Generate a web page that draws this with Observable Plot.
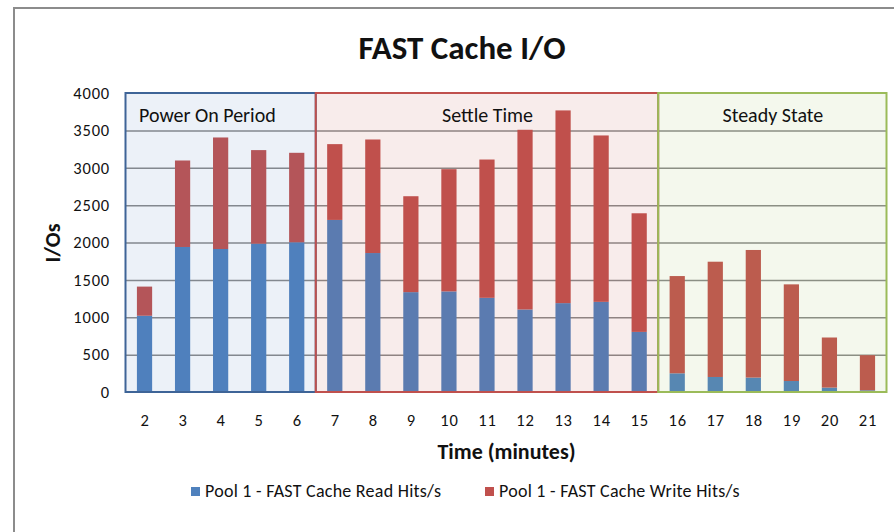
<!DOCTYPE html>
<html>
<head>
<meta charset="utf-8">
<script src="https://cdn.jsdelivr.net/npm/d3@7"></script>
<script src="https://cdn.jsdelivr.net/npm/@observablehq/plot@0.6"></script>
<style>
  body { margin:0; width:894px; height:532px; position:relative; overflow:hidden; background:#fff;
         font-family: Carlito, "Liberation Sans Narrow", Lato, sans-serif; color:#111; }
  #frame { position:absolute; left:13px; top:7px; width:900px; height:600px;
           border-left:2px solid #8c8c8c; border-top:2px solid #8c8c8c; }
  #title { position:absolute; top:29px; left:212px; width:500px; text-align:center;
           font-size:33px; font-weight:bold; line-height:38px; }
  #chart { position:absolute; top:70px; left:0; }
  .leg { position:absolute; top:480px; font-size:18px; letter-spacing:0.25px; line-height:22px; display:flex; align-items:center; }
  .sw { width:9px; height:9px; margin-right:5px; }
  svg g[aria-label="y-axis tick label"] text, svg g[aria-label="x-axis tick label"] text { letter-spacing: 0.8px; }
</style>
</head>
<body>
<div id="frame"></div>
<div id="title">FAST Cache I/O</div>
<div id="chart"></div>
<div class="leg" style="left:191px"><span class="sw" style="background:#4F81BD"></span>Pool 1 - FAST Cache Read Hits/s</div>
<div class="leg" style="left:485px"><span class="sw" style="background:#C0504D"></span>Pool 1 - FAST Cache Write Hits/s</div>
<script>
const minutes = [2,3,4,5,6,7,8,9,10,11,12,13,14,15,16,17,18,19,20,21];
const readHits = [1020,1940,1913,1984,2003,2302,1859,1336,1346,1260,1104,1189,1206,804,250,201,193,147,59,23];
const writeHits = [390,1157,1492,1252,1197,1014,1519,1283,1635,1850,2404,2578,2226,1587,1301,1542,1707,1293,670,469];
const seriesNames = ["Pool 1 - FAST Cache Read Hits/s", "Pool 1 - FAST Cache Write Hits/s"];
const seriesColors = ["#4F81BD", "#C0504D"];
const regionNames = ["Power On Period", "Settle Time", "Steady State"];
const regionStart = [2, 7, 16];
const regionEnd = [6, 15, 21];
const regionColors = ["#4F81BD", "#C0504D", "#9BBB59"];
const regionBorders = ["#3E6497", "#C0504D", "#9BBB59"];
const yTicks = [0,500,1000,1500,2000,2500,3000,3500,4000];
const gridTicks = [500,1000,1500,2000,2500,3000,3500];

const bars = [];
minutes.forEach((m, i) => {
  bars.push({m, s: seriesNames[0], y1: 0, y2: readHits[i]});
  bars.push({m, s: seriesNames[1], y1: readHits[i], y2: readHits[i] + writeHits[i]});
});
const regions = regionNames.map((name, i) => ({
  name, x1: regionStart[i] - 0.5, x2: regionEnd[i] + 0.5, fill: regionColors[i], stroke: regionBorders[i]
}));
const half = 0.2;
const ink = "#111";

const chart = Plot.plot({
  width: 894,
  height: 400,
  marginLeft: 125.5,
  marginRight: 7.5,
  marginTop: 23,
  marginBottom: 78,
  style: { fontFamily: 'Carlito, "Liberation Sans Narrow", Lato, sans-serif', fontSize: "16px", color: ink, background: "transparent" },
  x: { type: "linear", domain: [1.5, 21.5] },
  y: { domain: [0, 4000] },
  color: { domain: seriesNames, range: seriesColors },
  marks: [
    Plot.ruleY(gridTicks, { stroke: "#8a8a8a", strokeWidth: 1.5 }),
    Plot.rect(bars, { x1: d => d.m - half, x2: d => d.m + half, y1: "y1", y2: "y2", fill: "s" }),
    Plot.rect(regions, { x1: "x1", x2: "x2", y1: 0, y2: 4000, fill: d => d.fill, fillOpacity: 0.11 }),
    Plot.rect(regions, { x1: "x1", x2: "x2", y1: 0, y2: 4000, fill: "none", stroke: d => d.stroke, strokeWidth: 2 }),
    Plot.text(regions.slice(0, 1), { x: "x1", y: 4000, text: "name", textAnchor: "start", dx: 13, dy: 22, fontSize: 20, fill: ink }),
    Plot.text(regions.slice(1), { x: d => (d.x1 + d.x2) / 2, y: 4000, text: "name", dy: 22, fontSize: 20, fill: ink }),
    Plot.axisY({ ticks: yTicks, tickSize: 0, tickPadding: 16, label: null, fontSize: 16.5, tickFormat: d => String(d) }),
    Plot.axisX({ ticks: minutes, tickSize: 0, tickPadding: 22, label: null, fontSize: 16.5, tickFormat: d => String(d) }),
    Plot.text(["I/Os"], { frameAnchor: "left", textAnchor: "middle", dx: -73, rotate: -90, fontSize: 22, fontWeight: "bold", fill: ink }),
    Plot.text(["Time (minutes)"], { frameAnchor: "bottom", dy: 66, fontSize: 22, fontWeight: "bold", fill: ink })
  ]
});
document.getElementById("chart").appendChild(chart);
</script>
</body>
</html>
